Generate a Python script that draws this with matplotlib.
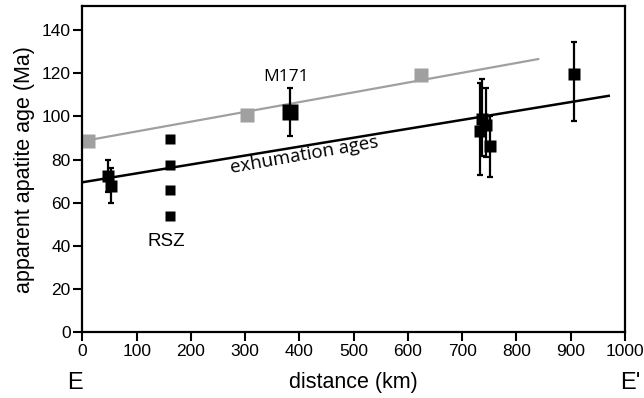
import numpy as np
import matplotlib.pyplot as plt

# gray points and their trend line
gray_x = [10, 304, 624]
gray_y = [88.5, 100.5, 119]
gray_line_x = [0, 840]
gray_line_y = [88.5, 126.5]

# exhumation ages line
exh_line_x = [0, 970]
exh_line_y = [69.5, 109.5]

# black points with error bars
err_x = [47, 52, 732, 737, 743, 752, 906]
err_y = [72.5, 68, 93, 99, 96, 86.5, 119.5]
err_lo = [7.5, 8, 20, 17.5, 15, 14.5, 21.5]
err_hi = [7.5, 8, 22.5, 18.5, 17, 13.5, 15]

# RSZ points (no error bars)
rsz_x = [161, 161, 161, 161]
rsz_y = [89.5, 77.5, 66, 54]

# M171
m171_x = [383]
m171_y = [102]
m171_err = [11]

plt.rcParams['font.family'] = ['Liberation Sans', 'DejaVu Sans']

fig = plt.figure(figsize=(6.44, 3.98), dpi=100)
ax = fig.add_axes([0.128, 0.1646, 0.8425, 0.82])

ax.plot(gray_line_x, gray_line_y, color='#a0a0a0', lw=1.6, zorder=1)
ax.plot(exh_line_x, exh_line_y, color='black', lw=1.8, zorder=1)
ax.plot(gray_x, gray_y, 's', color='#a0a0a0', ms=9.5, mec='none', zorder=2)

ax.errorbar(err_x, err_y, yerr=[err_lo, err_hi], fmt='s', color='black',
            ms=8.5, mec='none', ecolor='black', elinewidth=1.6, capsize=2.5,
            capthick=1.6, zorder=3)
ax.plot(rsz_x, rsz_y, 's', color='black', ms=7.5, mec='none', zorder=3)
ax.errorbar(m171_x, m171_y, yerr=m171_err, fmt='s', color='black',
            ms=11, mec='none', ecolor='black', elinewidth=1.6, capsize=2.5,
            capthick=1.6, zorder=3)

ax.text(376, 118, 'M171', ha='center', va='center', fontsize=12.5,
        family=['Open Sans', 'DejaVu Sans'])
ax.text(155, 42, 'RSZ', ha='center', va='center', fontsize=13.5)
ax.text(409, 82, 'exhumation ages', ha='center', va='center', fontsize=13.5,
        rotation=10, family=['Open Sans', 'DejaVu Sans'])

ax.set_xlim(0, 1000)
ax.set_ylim(0, 151)
ax.set_xticks(np.arange(0, 1001, 100))
ax.set_yticks(np.arange(0, 141, 20))
ax.tick_params(direction='out', length=6.5, width=1.5, labelsize=12.5, pad=2)
for s in ax.spines.values():
    s.set_linewidth(1.6)

ax.set_xlabel('distance (km)', fontsize=15.5, labelpad=9)
ax.set_ylabel('apparent apatite age (Ma)', fontsize=15.5, labelpad=5)
fig.text(75 / 644, 1 - 383 / 398, 'E', ha='center', va='center', fontsize=17)
fig.text(630 / 644, 1 - 383 / 398, "E'", ha='center', va='center', fontsize=17)

fig.savefig('out.png', dpi=100)
